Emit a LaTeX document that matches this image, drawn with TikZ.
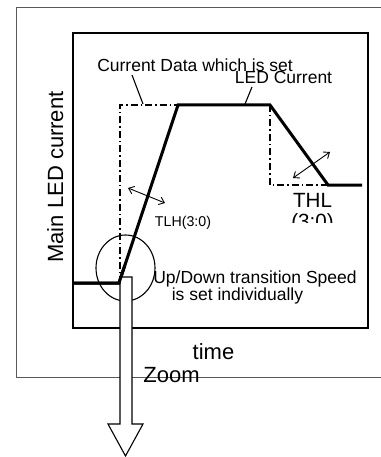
\documentclass[tikz,border=0pt]{standalone}
\usepackage{fontspec}
\setmainfont{Liberation Sans}
\usetikzlibrary{arrows.meta,shapes.geometric,calc}
\begin{document}
\begin{tikzpicture}[x=1pt,y=-1pt,
  lbl/.style={font=\fontsize{17.5}{20}\selectfont, inner sep=0pt, anchor=base},
  tightlbl/.style={lbl, text height=12.5pt, text depth=0pt},
  biglbl/.style={font=\fontsize{22}{24}\selectfont, inner sep=0pt, anchor=base},
  smalllbl/.style={font=\fontsize{14.2}{16}\selectfont, inner sep=0pt, anchor=base},
  thinline/.style={line width=1.1pt},
  dashdot/.style={line width=1.2pt, dash pattern=on 7pt off 3pt on 1.5pt off 3pt},
  ledline/.style={line width=3pt, line join=miter},
  dblarrow/.style={line width=0.9pt, {Straight Barb[length=5pt,width=8pt]}-{Straight Barb[length=5pt,width=8pt]}}]
\useasboundingbox (0,0) rectangle (380,457);
% outer frame
\draw[gray!70!black, line width=0.8pt] (390,7) -- (16,7) -- (16,377) -- (390,377);
% inner frame
\draw[line width=1.8pt] (73,33) rectangle (368,328);
% set data (dash-dot)
\draw[dashdot] (120,283) -- (120,105) -- (178,105);
\draw[dashdot] (270,105) -- (270,185) -- (328,185);
% LED current
\coordinate (p0) at (73,283);
\coordinate (p1) at (119,283);
\coordinate (p2) at (178,105);
\coordinate (p3) at (270,105);
\coordinate (p4) at (328,185);
\coordinate (p5) at (362,185);
\draw[ledline] (p0) -- (p1) -- (p2) -- (p3) -- (p4) -- (p5);
% zoom circle
\node[draw, thinline, ellipse, minimum width=59pt, minimum height=66pt, inner sep=0pt] (circ) at (125.5,268) {};
% zoom arrow
\draw[thinline, line join=miter, fill=white] (120,277) -- (132,277) -- (132,424) -- (143,424) -- (125.5,456) -- (108,424) -- (120,424) -- cycle;
\draw[ledline] (p0) -- (p1) -- ($(p1)!0.1!(p2)$);
% labels
\node[tightlbl] (cds) at (195,71.5) {Current Data which is set};
\node[tightlbl] (ledc) at (283.5,84) {LED Current};
\node[biglbl, rotate=90] (ylab) at (63,177) {Main LED current};
\node[smalllbl] (tlh) at (183,226) {TLH(3:0)};
\node[font=\fontsize{20.6}{22}\selectfont, inner sep=0pt, anchor=base] (thl) at (312.5,207) {THL};
\begin{scope}
\clip (280,200) rectangle (350,222);
\node[font=\fontsize{20.6}{22}\selectfont, inner sep=0pt, anchor=base] (thl2) at (312.5,228) {(3:0)};
\end{scope}
\node[lbl] (ud1) at (255,283) {Up/Down transition Speed};
\node[lbl] (ud2) at (237.5,300) {is set individually};
\node[biglbl] (time) at (213.5,359) {time};
\node[biglbl] (zoom) at (171.5,382) {Zoom};
% leaders
\coordinate (c1) at (132,75);
\coordinate (c2) at (143,104);
\draw[thinline] (c1) -- (c2);
\coordinate (c3) at (252,87);
\coordinate (c4) at (245,104);
\draw[thinline] (c3) -- (c4);
% double arrows
\coordinate (a1) at (128,188);
\coordinate (a2) at (165,203);
\draw[dblarrow] (a1) -- (a2);
\coordinate (a3) at (293,178);
\coordinate (a4) at (330,152);
\draw[dblarrow] (a3) -- (a4);
\end{tikzpicture}
\end{document}
